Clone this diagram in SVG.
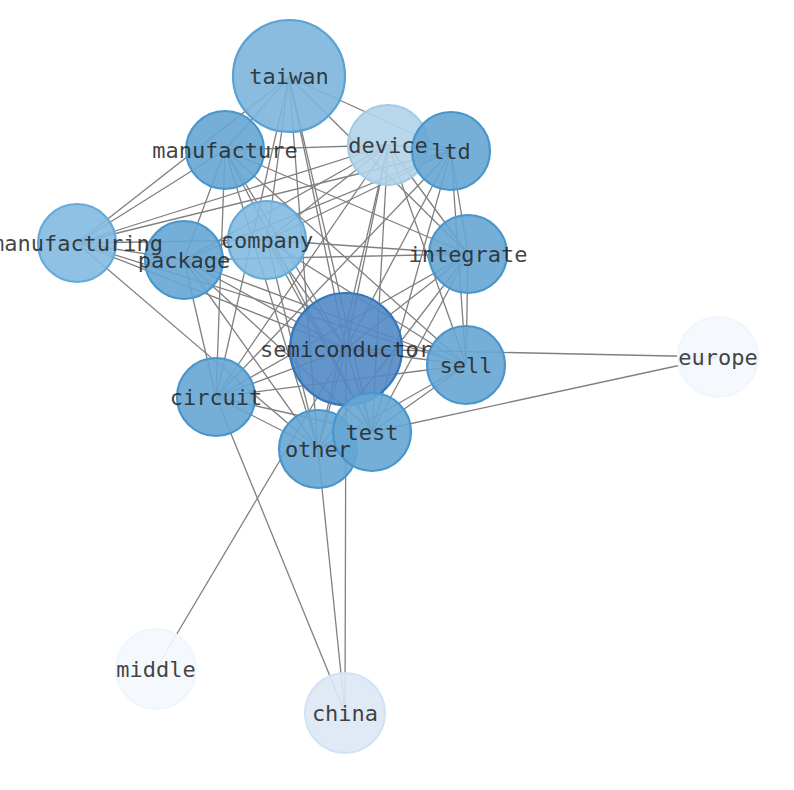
<svg xmlns="http://www.w3.org/2000/svg" width="794" height="790" viewBox="0 0 794 790">
<style>
.e{stroke:#808080;stroke-width:1.3;fill:none}
.n{stroke-width:2.2}
.t{font-family:"DejaVu Sans Mono",monospace;font-size:22px;fill:#222;fill-opacity:0.85;text-anchor:middle;dominant-baseline:central}
.c1{fill:#5289c4;fill-opacity:0.9;stroke:#3378bd}
.c2{fill:#7cb5dc;fill-opacity:0.9;stroke:#5aa2d2}
.c3{fill:#66a6d4;fill-opacity:0.9;stroke:#4896cc}
.c4{fill:#82bae0;fill-opacity:0.9;stroke:#66abd8}
.c5{fill:#b0d3e9;fill-opacity:0.9;stroke:#a2cbe6}
.c6{fill:#dbe8f5;fill-opacity:0.9;stroke:#d4e3f3}
.c7{fill:#f4f8fe;fill-opacity:0.9;stroke:#f0f6fd}
</style>
<rect width="794" height="790" fill="#ffffff"/>
<g id="edges">
<line class="e" x1="289" y1="77" x2="77" y2="243"/>
<line class="e" x1="289" y1="77" x2="225" y2="150"/>
<line class="e" x1="289" y1="77" x2="267" y2="240"/>
<line class="e" x1="289" y1="77" x2="216" y2="397"/>
<line class="e" x1="289" y1="77" x2="318" y2="449"/>
<line class="e" x1="289" y1="77" x2="346" y2="349"/>
<line class="e" x1="289" y1="77" x2="372" y2="432"/>
<line class="e" x1="289" y1="77" x2="468" y2="254"/>
<line class="e" x1="289" y1="77" x2="451" y2="151"/>
<line class="e" x1="225" y1="150" x2="77" y2="243"/>
<line class="e" x1="225" y1="150" x2="388" y2="145"/>
<line class="e" x1="225" y1="150" x2="216" y2="397"/>
<line class="e" x1="225" y1="150" x2="184" y2="260"/>
<line class="e" x1="225" y1="150" x2="346" y2="349"/>
<line class="e" x1="225" y1="150" x2="466" y2="365"/>
<line class="e" x1="225" y1="150" x2="372" y2="432"/>
<line class="e" x1="225" y1="150" x2="468" y2="254"/>
<line class="e" x1="225" y1="150" x2="318" y2="449"/>
<line class="e" x1="77" y1="243" x2="267" y2="240"/>
<line class="e" x1="77" y1="243" x2="451" y2="151"/>
<line class="e" x1="77" y1="243" x2="388" y2="145"/>
<line class="e" x1="77" y1="243" x2="346" y2="349"/>
<line class="e" x1="77" y1="243" x2="466" y2="365"/>
<line class="e" x1="77" y1="243" x2="318" y2="449"/>
<line class="e" x1="77" y1="243" x2="184" y2="260"/>
<line class="e" x1="388" y1="145" x2="451" y2="151"/>
<line class="e" x1="388" y1="145" x2="267" y2="240"/>
<line class="e" x1="388" y1="145" x2="184" y2="260"/>
<line class="e" x1="388" y1="145" x2="216" y2="397"/>
<line class="e" x1="388" y1="145" x2="346" y2="349"/>
<line class="e" x1="388" y1="145" x2="372" y2="432"/>
<line class="e" x1="388" y1="145" x2="318" y2="449"/>
<line class="e" x1="388" y1="145" x2="466" y2="365"/>
<line class="e" x1="388" y1="145" x2="468" y2="254"/>
<line class="e" x1="451" y1="151" x2="184" y2="260"/>
<line class="e" x1="451" y1="151" x2="267" y2="240"/>
<line class="e" x1="451" y1="151" x2="346" y2="349"/>
<line class="e" x1="451" y1="151" x2="466" y2="365"/>
<line class="e" x1="451" y1="151" x2="372" y2="432"/>
<line class="e" x1="451" y1="151" x2="468" y2="254"/>
<line class="e" x1="451" y1="151" x2="216" y2="397"/>
<line class="e" x1="267" y1="240" x2="346" y2="349"/>
<line class="e" x1="267" y1="240" x2="372" y2="432"/>
<line class="e" x1="267" y1="240" x2="468" y2="254"/>
<line class="e" x1="267" y1="240" x2="466" y2="365"/>
<line class="e" x1="267" y1="240" x2="318" y2="449"/>
<line class="e" x1="184" y1="260" x2="468" y2="254"/>
<line class="e" x1="184" y1="260" x2="346" y2="349"/>
<line class="e" x1="184" y1="260" x2="466" y2="365"/>
<line class="e" x1="184" y1="260" x2="372" y2="432"/>
<line class="e" x1="184" y1="260" x2="318" y2="449"/>
<line class="e" x1="184" y1="260" x2="216" y2="397"/>
<line class="e" x1="468" y1="254" x2="346" y2="349"/>
<line class="e" x1="468" y1="254" x2="466" y2="365"/>
<line class="e" x1="468" y1="254" x2="372" y2="432"/>
<line class="e" x1="468" y1="254" x2="216" y2="397"/>
<line class="e" x1="468" y1="254" x2="318" y2="449"/>
<line class="e" x1="346" y1="349" x2="466" y2="365"/>
<line class="e" x1="346" y1="349" x2="216" y2="397"/>
<line class="e" x1="346" y1="349" x2="372" y2="432"/>
<line class="e" x1="346" y1="349" x2="318" y2="449"/>
<line class="e" x1="346" y1="349" x2="345" y2="713"/>
<line class="e" x1="346" y1="349" x2="156" y2="669"/>
<line class="e" x1="346" y1="349" x2="718" y2="357"/>
<line class="e" x1="466" y1="365" x2="216" y2="397"/>
<line class="e" x1="466" y1="365" x2="372" y2="432"/>
<line class="e" x1="466" y1="365" x2="318" y2="449"/>
<line class="e" x1="216" y1="397" x2="372" y2="432"/>
<line class="e" x1="216" y1="397" x2="318" y2="449"/>
<line class="e" x1="216" y1="397" x2="345" y2="713"/>
<line class="e" x1="372" y1="432" x2="318" y2="449"/>
<line class="e" x1="372" y1="432" x2="718" y2="357"/>
<line class="e" x1="318" y1="449" x2="345" y2="713"/>
</g>
<g id="nodes">
<g id="node-taiwan"><circle class="n c2" cx="289" cy="76" r="56"/></g>
<g id="node-manufacture"><circle class="n c3" cx="225" cy="150" r="39"/></g>
<g id="node-device"><circle class="n c5" cx="388" cy="145" r="40"/></g>
<g id="node-ltd"><circle class="n c3" cx="451" cy="151" r="39"/></g>
<g id="node-manufacturing"><circle class="n c4" cx="77" cy="243" r="39"/></g>
<g id="node-company"><circle class="n c4" cx="267" cy="240" r="39"/></g>
<g id="node-package"><circle class="n c3" cx="184" cy="260" r="39"/></g>
<g id="node-integrate"><circle class="n c3" cx="468" cy="254" r="39"/></g>
<g id="node-semiconductor"><circle class="n c1" cx="346" cy="349" r="56"/></g>
<g id="node-sell"><circle class="n c3" cx="466" cy="365" r="39"/></g>
<g id="node-europe"><circle class="n c7" cx="718" cy="357" r="40"/></g>
<g id="node-circuit"><circle class="n c3" cx="216" cy="397" r="39"/></g>
<g id="node-other"><circle class="n c3" cx="318" cy="449" r="39"/></g>
<g id="node-test"><circle class="n c3" cx="372" cy="432" r="39"/></g>
<g id="node-middle"><circle class="n c7" cx="156" cy="669" r="40"/></g>
<g id="node-china"><circle class="n c6" cx="345" cy="713" r="40"/></g>
</g>
<g id="labels">
<text id="label-taiwan" class="t" x="289" y="76">taiwan</text>
<text id="label-manufacture" class="t" x="225" y="150">manufacture</text>
<text id="label-device" class="t" x="388" y="145">device</text>
<text id="label-ltd" class="t" x="451" y="151">ltd</text>
<text id="label-manufacturing" class="t" x="77" y="243">manufacturing</text>
<text id="label-company" class="t" x="267" y="240">company</text>
<text id="label-package" class="t" x="184" y="260">package</text>
<text id="label-integrate" class="t" x="468" y="254">integrate</text>
<text id="label-semiconductor" class="t" x="346" y="349">semiconductor</text>
<text id="label-sell" class="t" x="466" y="365">sell</text>
<text id="label-europe" class="t" x="718" y="357">europe</text>
<text id="label-circuit" class="t" x="216" y="397">circuit</text>
<text id="label-other" class="t" x="318" y="449">other</text>
<text id="label-test" class="t" x="372" y="432">test</text>
<text id="label-middle" class="t" x="156" y="669">middle</text>
<text id="label-china" class="t" x="345" y="713">china</text>
</g>
</svg>
